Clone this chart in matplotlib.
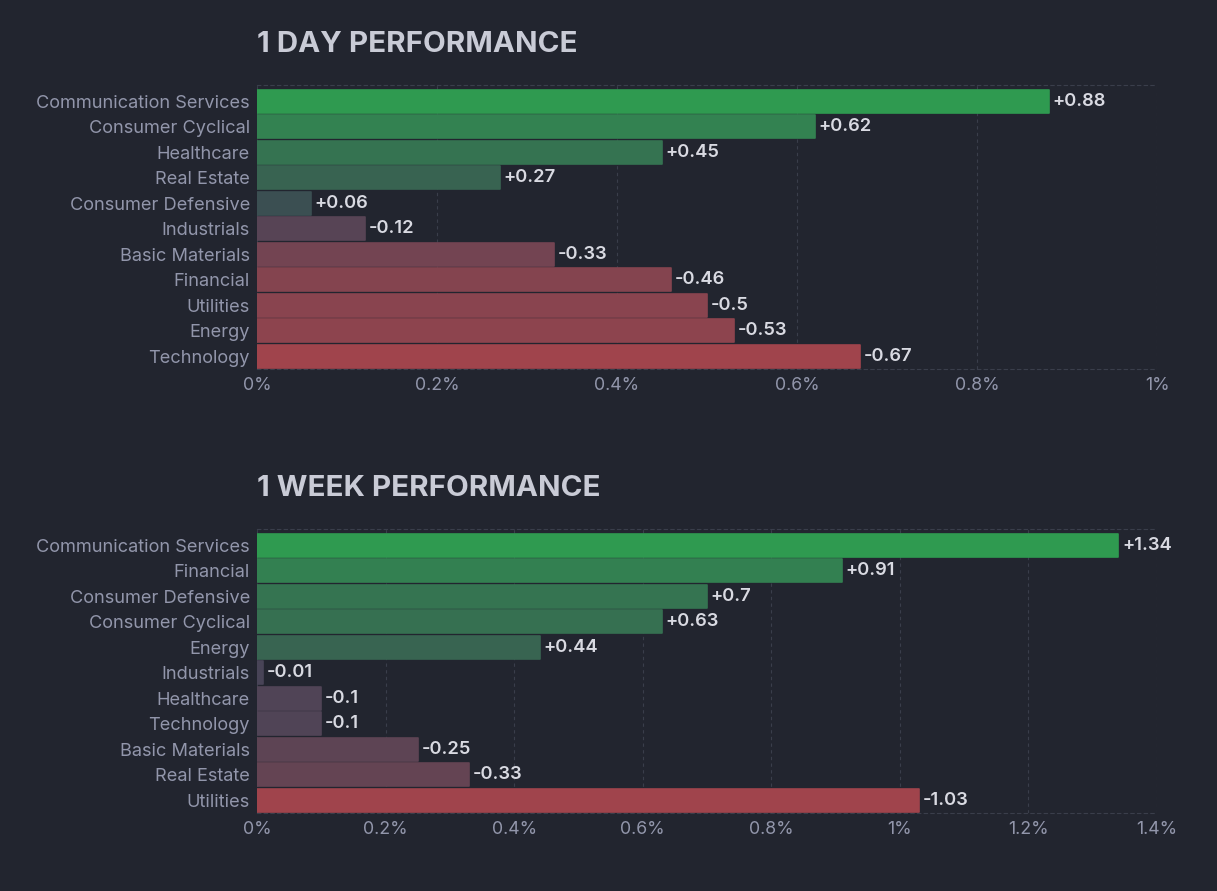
import numpy as np
import matplotlib.pyplot as plt
from matplotlib.colors import to_rgb

day_sectors = ['Communication Services', 'Consumer Cyclical', 'Healthcare', 'Real Estate',
               'Consumer Defensive', 'Industrials', 'Basic Materials', 'Financial',
               'Utilities', 'Energy', 'Technology']
day_values = [0.88, 0.62, 0.45, 0.27, 0.06, -0.12, -0.33, -0.46, -0.5, -0.53, -0.67]
day_ticks = [0, 0.2, 0.4, 0.6, 0.8, 1.0]
day_ticklabels = ['0%', '0.2%', '0.4%', '0.6%', '0.8%', '1%']

week_sectors = ['Communication Services', 'Financial', 'Consumer Defensive', 'Consumer Cyclical',
                'Energy', 'Industrials', 'Healthcare', 'Technology', 'Basic Materials',
                'Real Estate', 'Utilities']
week_values = [1.34, 0.91, 0.7, 0.63, 0.44, -0.01, -0.1, -0.1, -0.25, -0.33, -1.03]
week_ticks = [0, 0.2, 0.4, 0.6, 0.8, 1.0, 1.2, 1.4]
week_ticklabels = ['0%', '0.2%', '0.4%', '0.6%', '0.8%', '1%', '1.2%', '1.4%']

BG = '#22252f'
GRID = '#3a3e4b'
LABEL = '#9296ab'
VALUE = '#d9dae2'
TITLE = '#c9cbd6'
POS_BASE = np.array(to_rgb('#3c4a52'))
NEG_BASE = np.array(to_rgb('#474457'))
GREEN = np.array(to_rgb('#2f9a50'))
RED = np.array(to_rgb('#a0444c'))

plt.rcParams['font.family'] = ['Inter', 'DejaVu Sans']


def bar_color(v, vmax, vmin):
    if v >= 0:
        return POS_BASE + (GREEN - POS_BASE) * (v / vmax)
    return NEG_BASE + (RED - NEG_BASE) * (v / vmin)


def draw(ax, title, sectors, values, ticks, ticklabels):
    ax.set_facecolor(BG)
    y = np.arange(len(sectors))
    widths = [abs(v) for v in values]
    colors = [bar_color(v, max(values), min(values)) for v in values]
    bars = ax.barh(y, widths, height=0.9, color=colors, edgecolor=colors,
                   linewidth=1.2, joinstyle='round', zorder=3)
    for b, v in zip(bars, values):
        txt = ('+' if v > 0 else '') + f'{v:g}'
        ax.text(b.get_width() + ticks[-1] * 0.004, b.get_y() + b.get_height() / 2, txt,
                va='center', ha='left', color=VALUE, fontsize=13.2, fontweight='semibold', zorder=4)
    ax.set_yticks(y)
    ax.set_yticklabels(sectors)
    ax.set_ylim(len(sectors) - 0.5, -0.64)
    ax.set_xlim(0, ticks[-1])
    ax.set_xticks(ticks)
    ax.set_xticklabels(ticklabels)
    ax.tick_params(axis='both', length=0, colors=LABEL)
    ax.tick_params(axis='y', pad=5, labelsize=13.1)
    ax.tick_params(axis='x', pad=6, labelsize=12.8)
    ax.grid(axis='x', color=GRID, linestyle=(0, (3, 3)), linewidth=0.8, zorder=0)
    for side in ['left', 'right']:
        ax.spines[side].set_visible(False)
    for side in ['top', 'bottom']:
        ax.spines[side].set_color(GRID)
        ax.spines[side].set_linestyle((0, (3, 3)))
        ax.spines[side].set_linewidth(0.8)
    ax.set_title(title, loc='left', color=TITLE, fontsize=21.3, fontweight='bold', pad=24, x=0.0)


fig = plt.figure(figsize=(12.17, 8.91), dpi=100, facecolor=BG)
ax1 = fig.add_axes([257 / 1217, 1 - 369 / 891, 900 / 1217, 284 / 891])
ax2 = fig.add_axes([257 / 1217, 1 - 813 / 891, 900 / 1217, 284 / 891])

draw(ax1, '1 DAY PERFORMANCE', day_sectors, day_values, day_ticks, day_ticklabels)
draw(ax2, '1 WEEK PERFORMANCE', week_sectors, week_values, week_ticks, week_ticklabels)

fig.savefig('out.png', dpi=100, facecolor=BG)
